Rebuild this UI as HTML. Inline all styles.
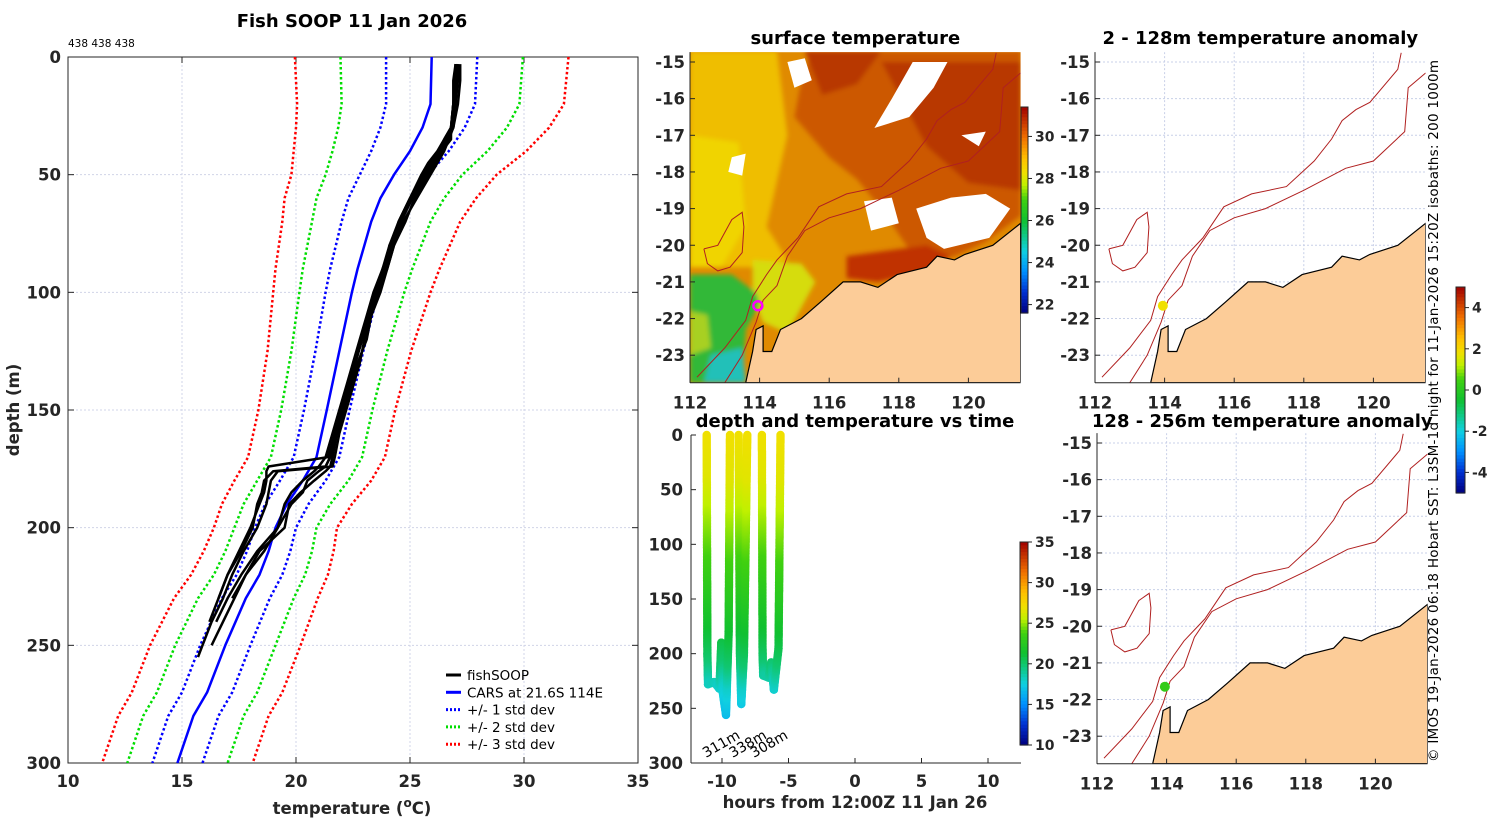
<!DOCTYPE html>
<html><head><meta charset="utf-8"><style>
html,body{margin:0;padding:0;background:#fff;}
svg{display:block;font-family:"DejaVu Sans","Liberation Sans",sans-serif;}
.tk{font-weight:bold;font-size:16.5px;fill:#262626;}
.ttl{font-weight:bold;font-size:18px;fill:#000;}
.nb{font-weight:normal;fill:#000;}
</style></head><body>
<svg id="fig" width="1500" height="820" viewBox="0 0 1500 820" xmlns="http://www.w3.org/2000/svg">
<defs>
<filter id="soft"><feGaussianBlur stdDeviation="2.5"/></filter>
</defs>
</svg>
<script>
// ---------------- DATA ----------------
const profDepths = [0,20,30,40,50,60,70,80,90,100,125,150,170,180,190,200,210,220,230,250,270,280,300];
const carsMean   = [25.95,25.9,25.55,25.0,24.3,23.7,23.3,23.0,22.7,22.45,21.9,21.35,20.9,20.3,19.6,19.1,18.8,18.4,17.8,16.9,16.1,15.5,14.8];
const carsStd    = [2.0,1.95,1.85,1.7,1.5,1.4,1.3,1.25,1.2,1.15,1.05,1.0,1.0,1.0,0.95,0.9,0.95,1.0,1.05,1.1,1.1,1.1,1.1];
const castDepths = [3,10,20,30,35,40,45,50,60,70,80,90,100,110,120,130,140,150,160,170,174,176,180,185,190,200,210,220,230,240,250,255];
const cast1 = [27.1,27.1,27.0,26.9,26.7,26.5,26.2,25.9,25.3,24.7,24.3,24.0,23.7,23.3,23.0,22.8,22.5,22.2,21.9,21.7,21.6,19.2,18.9,18.8,18.7,18.3,17.7,17.2,16.8,16.3,15.9,15.7];
const cast2 = [27.0,27.0,26.9,26.8,26.8,26.4,26.0,25.6,25.0,24.5,24.2,23.8,23.5,23.2,22.9,22.6,22.3,22.0,21.8,21.5,21.3,21.0,20.5,20.3,19.8,19.2,18.3,17.6,17.0,16.5];
const cast3 = [27.2,27.2,27.1,26.9,26.6,26.3,26.0,25.7,25.1,24.6,24.1,23.9,23.6,23.2,22.9,22.6,22.3,22.0,21.7,21.4,18.8,18.7,18.7,18.6,18.4,18.0,17.5,17.0,16.6];
const cast4 = [27.0,27.0,26.9,26.8,26.5,26.2,25.8,25.5,25.0,24.5,24.1,23.8,23.4,23.1,22.8,22.5,22.2,21.9,21.6,21.3,21.0,20.8,20.3,19.8,19.5,19.2,18.6,17.8,17.2];
const cast5 = [27.1,27.0,27.0,26.9,26.6,26.4,26.1,25.8,25.2,24.8,24.3,24.0,23.6,23.3,23.1,22.7,22.4,22.1,21.8,21.5,21.3,19.0,18.6,18.5,18.3,18.1,17.6,17.0,16.6,16.2];
const cast6 = [27.0,26.9,26.9,26.8,26.5,26.3,25.9,25.6,25.1,24.6,24.2,23.9,23.5,23.2,22.9,22.6,22.3,22.1,21.8,21.6,21.5,21.3,20.8,20.2,19.7,19.5,18.4,17.8,17.3,16.8,16.3];
const casts = [cast1,cast2,cast3,cast4,cast5,cast6];
const tempTicks = [10,15,20,25,30,35];
const depthTicks = [0,50,100,150,200,250,300];
// colour temperature vs depth for time panel
const colorDepths = [0,40,80,120,160,190,210,230,260];
const colorTemps  = [27.0,26.5,25.0,23.5,22.0,20.8,19.8,18.0,16.5];
// time-depth tracks [hours, depth]
const trackA = [[-11.15,0],[-11.1,200],[-11.05,228],[-10.6,226],[-10.2,232],[-10.05,190],[-9.95,235],[-9.7,256],[-9.5,180],[-9.4,0]];
const trackB = [[-8.75,0],[-8.65,200],[-8.55,246],[-8.35,200],[-8.1,0]];
const trackC = [[-7.0,0],[-6.95,200],[-6.9,220],[-6.5,222],[-6.3,208],[-6.1,233],[-5.75,195],[-5.6,0]];
const tracks = [trackA,trackB,trackC];
const hourTicks = [-10,-5,0,5,10];
const castLabels = ['311m','338m','308m'];
const castLabelHours = [-11.2,-9.2,-7.6];
// map geometry (lon, lat)
const coast = [[113.6,-23.75],[113.8,-22.9],[113.9,-22.3],[114.1,-22.2],[114.1,-22.9],[114.35,-22.9],[114.6,-22.3],[115.2,-22.0],[115.75,-21.55],[116.4,-21.0],[116.9,-21.0],[117.4,-21.15],[117.95,-20.8],[118.8,-20.6],[119.1,-20.3],[119.6,-20.4],[119.9,-20.25],[120.7,-20.0],[121.5,-19.4],[121.5,-23.75]];
const iso200 = [[113.0,-23.75],[113.5,-23.0],[113.9,-22.1],[114.1,-21.5],[114.5,-21.1],[114.8,-20.3],[115.3,-19.6],[116.0,-19.25],[116.9,-19.0],[118.0,-18.5],[119.2,-17.9],[120.0,-17.7],[120.9,-16.9],[121.0,-15.7],[121.5,-15.3]];
const iso1000 = [[112.2,-23.6],[113.0,-22.8],[113.6,-22.05],[113.8,-21.4],[114.2,-20.8],[114.5,-20.4],[115.1,-19.8],[115.7,-18.95],[116.5,-18.6],[117.5,-18.4],[118.3,-17.7],[118.8,-17.1],[119.1,-16.6],[119.5,-16.3],[119.9,-16.1],[120.7,-15.2],[120.8,-14.75]];
const plateau = [[112.4,-20.1],[112.8,-20.0],[113.2,-19.3],[113.5,-19.1],[113.55,-19.5],[113.5,-20.2],[113.15,-20.6],[112.8,-20.7],[112.5,-20.5],[112.4,-20.1]];
const lonTicks = [112,114,116,118,120];
const latTicks = [-15,-16,-17,-18,-19,-20,-21,-22,-23];
const ship = [113.95,-21.65];
const anomValues = [1.8,0.2];
const sstTicks = [30,28,26,24,22];
const anomTicks = [4,2,0,-2,-4];
const timeCbTicks = [35,30,25,20,15,10];

// ---------------- HELPERS ----------------
const NS='http://www.w3.org/2000/svg';
const svg=document.getElementById('fig');
function mk(tag,attrs,parent){const e=document.createElementNS(NS,tag);for(const k in attrs)e.setAttribute(k,attrs[k]);(parent||svg).appendChild(e);return e;}
function txt(x,y,s,cls,anchor,parent){const t=mk('text',{x:x,y:y,'class':cls,'text-anchor':anchor||'middle'},parent);t.textContent=s;return t;}
const stops=[[0,[0,0,127]],[0.1,[0,48,208]],[0.2,[0,144,255]],[0.3,[16,208,224]],[0.38,[16,200,128]],[0.45,[16,192,48]],[0.55,[64,208,16]],[0.62,[192,240,0]],[0.68,[240,224,0]],[0.75,[255,192,0]],[0.85,[240,112,0]],[1,[160,0,0]]];
function cmap(t){t=Math.max(0,Math.min(1,t));for(let i=1;i<stops.length;i++){if(t<=stops[i][0]){const a=stops[i-1],b=stops[i];const f=(t-a[0])/(b[0]-a[0]);const c=a[1].map((v,k)=>Math.round(v+(b[1][k]-v)*f));return 'rgb('+c.join(',')+')';}}return 'rgb(160,0,0)';}
function interp(xs,ys,x){if(x<=xs[0])return ys[0];for(let i=1;i<xs.length;i++){if(x<=xs[i]){const f=(x-xs[i-1])/(xs[i]-xs[i-1]);return ys[i-1]+f*(ys[i]-ys[i-1]);}}return ys[ys.length-1];}
function colorbar(x,y0,y1,w,vmin,vmax,ticks,name){
  const g=mk('g',{});
  
  
  const n=60;const h=(y1-y0)/n;
  for(let i=0;i<n;i++){mk('rect',{x:x,y:y0+i*h,width:w,height:h+0.6,fill:cmap(1-(i+0.5)/n)},g);}
  mk('rect',{x:x,y:y0,width:w,height:y1-y0,fill:'none',stroke:'#262626','stroke-width':1},g);
  ticks.forEach(v=>{const yy=y1-(v-vmin)/(vmax-vmin)*(y1-y0);mk('line',{x1:x+w,x2:x+w+4,y1:yy,y2:yy,stroke:'#262626'},g);const t=txt(x+w+7,yy+5,String(v),'tk','start',g);t.setAttribute('style','font-size:14px');});
  return g;
}

// ---------------- PANEL 1: profiles ----------------
(function(){
 const L=68,R=638,T=57,B=763;
 const X=v=>L+(v-10)/25*(R-L), Y=d=>T+d/300*(B-T);
 const g=mk('g',{});
 
 
 const title=txt(352,27,'Fish SOOP 11 Jan 2026','ttl','middle',g);
 
 const cnt=txt(68,47,'438 438 438','nb','start',g);cnt.setAttribute('style','font-size:10.5px');
 
 tempTicks.forEach(v=>{if(v>10&&v<35)mk('line',{x1:X(v),x2:X(v),y1:T,y2:B,stroke:'#d0d4e8','stroke-dasharray':'2,2'},g);
   mk('line',{x1:X(v),x2:X(v),y1:B,y2:B-6,stroke:'#262626'},g);mk('line',{x1:X(v),x2:X(v),y1:T,y2:T+6,stroke:'#262626'},g);
   const t=txt(X(v),787,String(v),'tk','middle',g);});
 depthTicks.forEach(d=>{if(d>0&&d<300)mk('line',{x1:L,x2:R,y1:Y(d),y2:Y(d),stroke:'#d0d4e8','stroke-dasharray':'2,2'},g);
   mk('line',{x1:L,x2:L+6,y1:Y(d),y2:Y(d),stroke:'#262626'},g);mk('line',{x1:R,x2:R-6,y1:Y(d),y2:Y(d),stroke:'#262626'},g);
   const t=txt(61,Y(d)+6,String(d),'tk','end',g);});
 mk('rect',{x:L,y:T,width:R-L,height:B-T,fill:'none',stroke:'#262626','stroke-width':1},g);
 const xl=mk('text',{x:352,y:814,'class':'tk','text-anchor':'middle'},g);xl.innerHTML='temperature (<tspan dy="-7" font-size="12">o</tspan><tspan dy="7">C)</tspan>';
 
 const yl=txt(0,0,'depth (m)','tk','middle',g);yl.setAttribute('transform','translate(19,410) rotate(-90)');
 
 function line(vals,depths,col,dash,w,name){const p=vals.map((v,i)=>X(v).toFixed(1)+','+Y(depths[i]).toFixed(1)).join(' ');
   const e=mk('polyline',{points:p,fill:'none',stroke:col,'stroke-width':w,'stroke-dasharray':dash||'none','stroke-linejoin':'round'},g);
   
   }
 [[3,'#ff0000'],[2,'#00dd00'],[1,'#0000ff']].forEach(([k,c])=>{
   line(carsMean.map((m,i)=>m-k*carsStd[i]),profDepths,c,'2.5,2.5',2.5,'std-'+k+'-lower');
   line(carsMean.map((m,i)=>m+k*carsStd[i]),profDepths,c,'2.5,2.5',2.5,'std-'+k+'-upper');});
 line(carsMean,profDepths,'#0000ff',null,2.5,'cars-mean-line');
 casts.forEach((c,i)=>line(c,castDepths.slice(0,c.length),'#000',null,2.5,'fishsoop-cast-'+(i+1)));
 const lg=mk('g',{},g);
 
 
 const items=[['fishSOOP','#000',null],['CARS at 21.6S 114E','#0000ff',null],['+/- 1 std dev','#0000ff','2,2'],['+/- 2 std dev','#00dd00','2,2'],['+/- 3 std dev','#ff0000','2,2']];
 items.forEach((it,i)=>{const yy=675+i*17.3;mk('line',{x1:446,x2:461,y1:yy,y2:yy,stroke:it[1],'stroke-width':3,'stroke-dasharray':it[2]||'none'},lg);
   const t=txt(467,yy+5,it[0],'nb','start',lg);t.setAttribute('style','font-size:13.5px');});
})();

// ---------------- PANEL: time ----------------
(function(){
 const L=691,R=1021,T=435,B=763;
 const X=h=>855+h*13.3, Y=d=>T+d/300*(B-T);
 const g=mk('g',{});
 
 
 const t0=txt(855,427,'depth and temperature vs time','ttl','middle',g);
 mk('line',{x1:L,x2:L,y1:T,y2:B,stroke:'#262626'},g);mk('line',{x1:L,x2:R,y1:B,y2:B,stroke:'#262626'},g);
 depthTicks.forEach(d=>{mk('line',{x1:L,x2:L+5,y1:Y(d),y2:Y(d),stroke:'#262626'},g);const t=txt(683,Y(d)+6,String(d),'tk','end',g);});
 hourTicks.forEach(h=>{mk('line',{x1:X(h),x2:X(h),y1:B,y2:B-5,stroke:'#262626'},g);const t=txt(X(h),787,String(h),'tk','middle',g);});
 const xl=txt(855,808,'hours from 12:00Z 11 Jan 26','tk','middle',g);
 const tg=mk('g',{},g);
 tracks.forEach(tr=>{for(let i=1;i<tr.length;i++){const x0=X(tr[i-1][0]),y0=Y(tr[i-1][1]),x1=X(tr[i][0]),y1=Y(tr[i][1]);
   const len=Math.hypot(x1-x0,y1-y0);const n=Math.max(1,Math.ceil(len/1.5));
   for(let k=0;k<=n;k++){const f=k/n;const d=tr[i-1][1]+f*(tr[i][1]-tr[i-1][1]);const temp=interp(colorDepths,colorTemps,d);
     const c=mk('circle',{cx:(x0+f*(x1-x0)).toFixed(1),cy:(y0+f*(y1-y0)).toFixed(1),r:4.2,fill:cmap((temp-10)/25)},tg);
     }}});
 castLabels.forEach((s,i)=>{const t=txt(0,0,s,'nb','start',g);t.setAttribute('transform','translate('+X(castLabelHours[i])+',758) rotate(-30)');t.setAttribute('style','font-size:14px');});
 colorbar(1020,542,745,8,10,35,timeCbTicks,'time-colorbar');
})();

// ---------------- MAPS ----------------
function makeMap(ox,lat15y,name,title,titleY,kind,val){
 const L=ox,Rr=ox+(121.5-112)*34.8;
 const sx=lon=>ox+(lon-112)*34.8, sy=lat=>lat15y+(-15-lat)*36.65;
 const T=sy(-14.73),B=sy(-23.75);
 const P=arr=>arr.map(p=>sx(p[0]).toFixed(1)+','+sy(p[1]).toFixed(1)).join(' ');
 const g=mk('g',{});
 
 
 const clipId='clip'+name;const cp=mk('clipPath',{id:clipId},g);mk('rect',{x:L,y:T,width:Rr-L,height:B-T},cp);
 const inner=mk('g',{'clip-path':'url(#'+clipId+')'},g);
 if(kind==='sst'){
   mk('rect',{x:L,y:T,width:Rr-L,height:B-T,fill:'#e08a00'},inner);
   const gr=mk('g',{filter:'url(#soft)'},inner);
   mk('polygon',{points:P([[112,-14.7],[114.5,-14.7],[114.8,-17],[114.2,-19.5],[114.8,-20.4],[113.8,-20.6],[112,-20.6]]),fill:'#efbe00'},gr);
   mk('polygon',{points:P([[112,-17.0],[113.4,-17.2],[113.6,-19.5],[112.9,-20.6],[112,-20.6]]),fill:'#f0d400'},gr);
   mk('polygon',{points:P([[115.5,-14.7],[121.5,-14.7],[121.5,-19.2],[120.5,-19.9],[119.6,-20.3],[118.5,-20.4],[117.5,-19.0],[116.8,-18.2],[116.0,-17.6],[115.0,-16.5],[115.2,-15.5]]),fill:'#cc5800'},gr);
   mk('polygon',{points:P([[117.5,-15.0],[121.5,-15.0],[121.5,-18.5],[120.0,-18.3],[118.8,-17.3]]),fill:'#b83800'},gr);
   mk('polygon',{points:P([[115.3,-14.7],[117.5,-14.7],[116.8,-15.6],[115.8,-15.9]]),fill:'#b83800'},gr);
   mk('polygon',{points:P([[116.5,-20.3],[118.8,-20.0],[119.5,-20.3],[118.8,-20.7],[117.4,-21.0],[116.5,-20.9]]),fill:'#c03000'},gr);
   mk('polygon',{points:P([[113.8,-20.4],[115.2,-20.5],[115.6,-21.0],[114.8,-22.4],[114.1,-22.1],[113.8,-21.4]]),fill:'#d6dc10'},gr);
   mk('polygon',{points:P([[112,-20.8],[113.2,-20.8],[113.9,-21.3],[114.0,-21.6],[113.6,-22.3],[113.5,-23.75],[112,-23.75]]),fill:'#30b838'},gr);
   mk('polygon',{points:P([[112,-21.8],[112.5,-21.9],[112.6,-22.8],[112,-23.0]]),fill:'#a8d020'},gr);
   mk('polygon',{points:P([[112.6,-23.0],[113.5,-22.8],[113.6,-23.75],[112.4,-23.75]]),fill:'#20c0b8'},gr);
   const cl=mk('g',{},inner);
   [[[117.3,-16.8],[117.8,-16.0],[118.4,-15.0],[119.4,-15.0],[119.0,-15.7],[118.3,-16.5]],
    [[118.5,-19.0],[119.5,-18.7],[120.5,-18.6],[121.2,-19.0],[120.6,-19.8],[119.3,-20.1],[118.8,-19.8]],
    [[117.0,-18.8],[117.8,-18.7],[118.0,-19.4],[117.2,-19.6]],
    [[114.8,-15.0],[115.3,-14.9],[115.5,-15.5],[115.0,-15.7]],
    [[119.8,-17.0],[120.5,-16.9],[120.3,-17.3]],
    [[113.2,-17.6],[113.6,-17.5],[113.5,-18.1],[113.1,-18.0]]].forEach(pl=>{const c=mk('polygon',{points:P(pl),fill:'#ffffff'},cl);});
 } else {
   latTicks.forEach(la=>mk('line',{x1:L,x2:Rr,y1:sy(la),y2:sy(la),stroke:'#c8d0e8','stroke-dasharray':'2,2'},inner));
   lonTicks.forEach(lo=>mk('line',{x1:sx(lo),x2:sx(lo),y1:T,y2:B,stroke:'#c8d0e8','stroke-dasharray':'2,2'},inner));
 }
 const land=mk('polygon',{points:P(coast),fill:'#fccc98',stroke:'#000','stroke-width':1.2},inner);
 
 [iso200,iso1000,plateau].forEach((ln,i)=>{const e=mk('polyline',{points:P(ln),fill:'none',stroke:'#b02020','stroke-width':1},inner);});
 if(kind==='sst'){const m=mk('circle',{cx:sx(ship[0]),cy:sy(ship[1]),r:4.5,fill:'none',stroke:'#ff00ff','stroke-width':2.5},inner);}
 else {const m=mk('circle',{cx:sx(ship[0]),cy:sy(ship[1]),r:5,fill:cmap((val+5)/10)},inner);}
 mk('line',{x1:L,x2:L,y1:T,y2:B,stroke:'#262626'},g);mk('line',{x1:L,x2:Rr,y1:B,y2:B,stroke:'#262626'},g);
 latTicks.forEach(la=>{mk('line',{x1:L,x2:L+5,y1:sy(la),y2:sy(la),stroke:'#262626'},g);const t=txt(L-5,sy(la)+6,String(la),'tk','end',g);});
 lonTicks.forEach(lo=>{mk('line',{x1:sx(lo),x2:sx(lo),y1:B,y2:B-5,stroke:'#262626'},g);const t=txt(sx(lo),B+26,String(lo),'tk','middle',g);});
 const tt=txt((L+Rr)/2,titleY,title,'ttl','middle',g);
}
makeMap(690,62,'sst-map','surface temperature',44,'sst',0);
makeMap(1095,62,'anomaly-map-shallow','2 - 128m temperature anomaly',44,'anom',anomValues[0]);
makeMap(1097,443,'anomaly-map-deep','128 - 256m temperature anomaly',427,'anom',anomValues[1]);
colorbar(1021,107,313,7,21.6,31.4,sstTicks,'sst-colorbar');
colorbar(1456,287,493,9,-5,5,anomTicks,'anomaly-colorbar');
const cr=txt(0,0,'© IMOS 19-Jan-2026 06:18 Hobart SST: L3SM-1d night for 11-Jan-2026 15:20Z isobaths: 200  1000m','nb','middle');
cr.setAttribute('transform','translate(1438,411) rotate(-90)');
cr.setAttribute('textLength','702');
cr.setAttribute('style','font-size:13.5px');


</script>
</body></html>
